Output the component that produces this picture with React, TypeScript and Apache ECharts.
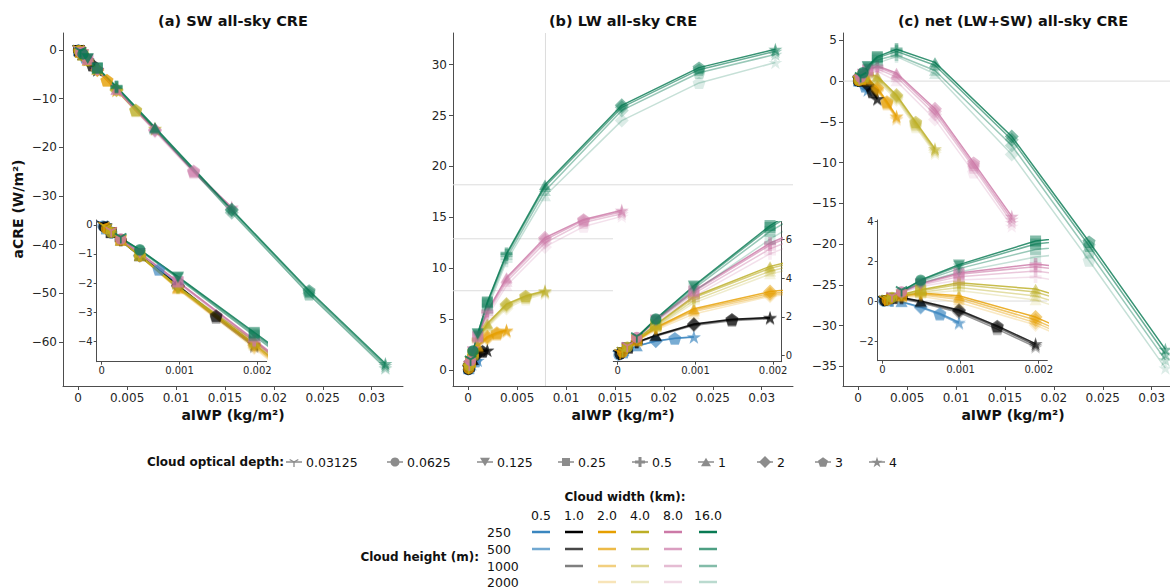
import React, { useEffect, useRef } from 'react';
import * as echarts from 'echarts';

// ---------------- data ----------------
const tauValues = [0.03125, 0.0625, 0.125, 0.25, 0.5, 1, 2, 3, 4];
const widthLabels = ['0.5', '1.0', '2.0', '4.0', '8.0', '16.0'];
const heightLabels = ['250', '500', '1000', '2000'];

const panelTitles = ['(a) SW all-sky CRE', '(b) LW all-sky CRE', '(c) net (LW+SW) all-sky CRE'];
const xAxisTitle = 'aIWP (kg/m²)';
const yAxisTitle = 'aCRE (W/m²)';
const opticalDepthTitle = 'Cloud optical depth:';
const widthTitle = 'Cloud width (km):';
const heightTitle = 'Cloud height (m):';

const mainXTicks = [0, 0.005, 0.01, 0.015, 0.02, 0.025, 0.03];
const mainYTicksA = [-60, -50, -40, -30, -20, -10, 0];
const mainYTicksB = [0, 5, 10, 15, 20, 25, 30];
const mainYTicksC = [-35, -30, -25, -20, -15, -10, -5, 0, 5];
const insetXTicks = [0, 0.001, 0.002];
const insetYTicksA = [-4, -3, -2, -1, 0];
const insetYTicksB = [0, 2, 4, 6];
const insetYTicksC = [-2, 0, 2, 4];

const mainXRange = [-0.00155, 0.0332];
const mainYRangeA = [-69.0, 3.45];
const mainYRangeB = [-1.55, 33.1];
const mainYRangeC = [-37.4, 5.9];
const insetXRangeA = [-0.000064, 0.00212];
const insetXRangeB = [-0.000057, 0.00211];
const insetXRangeC = [-0.00006, 0.00211];
const insetYRangeA = [-4.71, 0.17];
const insetYRangeB = [-0.31, 6.9];
const insetYRangeC = [-2.98, 4.05];

// reference lines in panel (b) and zero lines in panel (c)
const lwRefX = 0.0079;
const lwRefYFull = 18.2;
const lwRefYShort = [12.9, 7.8];
const lwRefShortEnd = 0.0148;
const netZero = 0;

// aIWP (kg/m²) per cloud width, one value per optical depth
const aiwpW05 = [0.0000077, 0.0000153, 0.0000306, 0.0000613, 0.000123, 0.000245, 0.00049, 0.000735, 0.00098];
const aiwpW1 = [0.0000153, 0.0000306, 0.0000613, 0.000123, 0.000245, 0.00049, 0.00098, 0.00147, 0.00196];
const aiwpW2 = [0.0000306, 0.0000613, 0.000123, 0.000245, 0.00049, 0.00098, 0.00196, 0.00294, 0.00392];
const aiwpW4 = [0.0000613, 0.000123, 0.000245, 0.00049, 0.00098, 0.00196, 0.00392, 0.00588, 0.00785];
const aiwpW8 = [0.000123, 0.000245, 0.00049, 0.00098, 0.00196, 0.00392, 0.00785, 0.0118, 0.0157];
const aiwpW16 = [0.000245, 0.00049, 0.00098, 0.00196, 0.00392, 0.00785, 0.0157, 0.0236, 0.0314];

// width 0.5 km
const swW05H250 = [-0.017, -0.034, -0.067, -0.134, -0.265, -0.53, -1.05, -1.52, -2.03];
const swW05H500 = [-0.017, -0.034, -0.068, -0.136, -0.27, -0.54, -1.07, -1.55, -2.07];
const lwW05H250 = [0.02, 0.04, 0.08, 0.15, 0.28, 0.5, 0.76, 0.9, 0.97];
const lwW05H500 = [0.02, 0.04, 0.08, 0.15, 0.28, 0.49, 0.74, 0.88, 0.95];
const netW05H250 = [0.003, 0.006, 0.013, 0.016, 0.015, -0.03, -0.29, -0.62, -1.06];
const netW05H500 = [0.003, 0.006, 0.012, 0.014, 0.01, -0.05, -0.33, -0.67, -1.12];

// width 1.0 km
const swW1H250 = [-0.033, -0.066, -0.13, -0.26, -0.52, -1.05, -2.08, -3.12, -4.1];
const swW1H500 = [-0.033, -0.067, -0.132, -0.265, -0.53, -1.06, -2.1, -3.15, -4.15];
const swW1H1000 = [-0.034, -0.068, -0.135, -0.27, -0.54, -1.08, -2.13, -3.2, -4.2];
const lwW1H250 = [0.04, 0.08, 0.17, 0.4, 0.7, 1.05, 1.63, 1.88, 1.97];
const lwW1H500 = [0.04, 0.08, 0.17, 0.4, 0.69, 1.03, 1.6, 1.85, 1.94];
const lwW1H1000 = [0.04, 0.08, 0.16, 0.38, 0.66, 1.0, 1.56, 1.8, 1.9];
const netW1H250 = [0.007, 0.014, 0.04, 0.14, 0.18, 0.0, -0.45, -1.24, -2.13];
const netW1H500 = [0.007, 0.013, 0.038, 0.135, 0.16, -0.03, -0.5, -1.3, -2.21];
const netW1H1000 = [0.006, 0.012, 0.025, 0.11, 0.12, -0.08, -0.57, -1.4, -2.3];

// width 2.0 km
const swW2H250 = [-0.065, -0.13, -0.26, -0.52, -1.05, -2.15, -4.1, -6.2, -8.25];
const swW2H500 = [-0.066, -0.132, -0.265, -0.53, -1.06, -2.17, -4.15, -6.25, -8.3];
const swW2H1000 = [-0.067, -0.134, -0.268, -0.535, -1.07, -2.2, -4.2, -6.3, -8.4];
const swW2H2000 = [-0.068, -0.136, -0.272, -0.54, -1.08, -2.22, -4.25, -6.35, -8.45];
const lwW2H250 = [0.09, 0.18, 0.36, 0.8, 1.45, 2.42, 3.3, 3.7, 3.95];
const lwW2H500 = [0.09, 0.18, 0.35, 0.78, 1.42, 2.35, 3.2, 3.62, 3.88];
const lwW2H1000 = [0.09, 0.17, 0.34, 0.75, 1.38, 2.28, 3.12, 3.55, 3.8];
const lwW2H2000 = [0.08, 0.17, 0.33, 0.72, 1.32, 2.15, 3.05, 3.48, 3.72];
const netW2H250 = [0.025, 0.05, 0.1, 0.28, 0.4, 0.27, -0.8, -2.5, -4.3];
const netW2H500 = [0.024, 0.048, 0.085, 0.25, 0.36, 0.18, -0.95, -2.63, -4.42];
const netW2H1000 = [0.023, 0.036, 0.072, 0.215, 0.31, 0.08, -1.08, -2.75, -4.6];
const netW2H2000 = [0.012, 0.034, 0.058, 0.18, 0.24, -0.07, -1.2, -2.87, -4.73];

// width 4.0 km
const swW4H250 = [-0.13, -0.26, -0.52, -1.04, -2.13, -4.0, -8.2, -12.3, -16.1];
const swW4H500 = [-0.131, -0.262, -0.525, -1.05, -2.15, -4.05, -8.25, -12.4, -16.2];
const swW4H1000 = [-0.132, -0.264, -0.53, -1.06, -2.17, -4.1, -8.3, -12.5, -16.3];
const swW4H2000 = [-0.133, -0.266, -0.535, -1.07, -2.19, -4.15, -8.35, -12.6, -16.4];
const lwW4H250 = [0.2, 0.45, 0.85, 1.6, 3.05, 4.6, 6.5, 7.3, 7.8];
const lwW4H500 = [0.2, 0.44, 0.83, 1.56, 2.98, 4.5, 6.4, 7.22, 7.72];
const lwW4H1000 = [0.2, 0.43, 0.8, 1.5, 2.85, 4.35, 6.25, 7.1, 7.62];
const lwW4H2000 = [0.19, 0.42, 0.78, 1.45, 2.72, 4.2, 6.05, 6.95, 7.5];
const netW4H250 = [0.07, 0.19, 0.33, 0.56, 0.92, 0.6, -1.7, -5.0, -8.3];
const netW4H500 = [0.07, 0.18, 0.3, 0.51, 0.83, 0.45, -1.85, -5.18, -8.48];
const netW4H1000 = [0.068, 0.166, 0.27, 0.44, 0.68, 0.25, -2.05, -5.4, -8.68];
const netW4H2000 = [0.057, 0.154, 0.245, 0.38, 0.53, 0.05, -2.3, -5.65, -8.9];

// width 8.0 km
const swW8H250 = [-0.24, -0.48, -0.97, -1.95, -3.95, -8.1, -16.4, -24.8, -32.3];
const swW8H500 = [-0.24, -0.48, -0.975, -1.96, -3.98, -8.15, -16.5, -25.0, -32.5];
const swW8H1000 = [-0.245, -0.49, -0.98, -1.98, -4.0, -8.2, -16.6, -25.1, -32.7];
const swW8H2000 = [-0.25, -0.5, -0.99, -2.0, -4.05, -8.3, -16.8, -25.3, -32.9];
const lwW8H250 = [0.45, 0.95, 1.85, 3.35, 5.8, 9.1, 13.0, 14.8, 15.7];
const lwW8H500 = [0.45, 0.94, 1.82, 3.3, 5.7, 8.95, 12.8, 14.7, 15.55];
const lwW8H1000 = [0.44, 0.92, 1.78, 3.2, 5.5, 8.7, 12.5, 14.5, 15.35];
const lwW8H2000 = [0.43, 0.9, 1.72, 3.05, 5.25, 8.3, 12.1, 14.1, 15.1];
const netW8H250 = [0.21, 0.47, 0.88, 1.4, 1.85, 1.0, -3.4, -10.0, -16.6];
const netW8H500 = [0.21, 0.46, 0.845, 1.34, 1.72, 0.8, -3.7, -10.3, -16.95];
const netW8H1000 = [0.195, 0.43, 0.8, 1.22, 1.5, 0.5, -4.1, -10.6, -17.35];
const netW8H2000 = [0.18, 0.4, 0.73, 1.05, 1.2, 0.0, -4.7, -11.2, -17.8];

// width 16.0 km
const swW16H250 = [-0.45, -0.85, -1.78, -3.7, -7.55, -15.9, -32.8, -49.4, -64.4];
const swW16H500 = [-0.45, -0.86, -1.8, -3.75, -7.65, -16.05, -33.0, -49.7, -64.8];
const swW16H1000 = [-0.46, -0.88, -1.83, -3.82, -7.8, -16.3, -33.4, -50.2, -65.2];
const swW16H2000 = [-0.47, -0.9, -1.85, -3.8, -7.7, -16.2, -33.5, -50.2, -65.4];
const lwW16H250 = [0.95, 1.9, 3.6, 6.7, 11.45, 18.2, 26.0, 29.7, 31.5];
const lwW16H500 = [0.95, 1.88, 3.55, 6.6, 11.3, 18.0, 25.8, 29.5, 31.3];
const lwW16H1000 = [0.93, 1.85, 3.45, 6.4, 11.0, 17.6, 25.5, 29.2, 31.0];
const lwW16H2000 = [0.9, 1.8, 3.3, 6.0, 10.7, 17.1, 24.5, 28.2, 30.2];
const netW16H250 = [0.5, 1.05, 1.82, 3.0, 3.9, 2.3, -6.8, -19.7, -32.9];
const netW16H500 = [0.5, 1.02, 1.75, 2.85, 3.65, 1.95, -7.2, -20.2, -33.5];
const netW16H1000 = [0.47, 0.97, 1.62, 2.58, 3.2, 1.3, -7.9, -21.0, -34.2];
const netW16H2000 = [0.43, 0.9, 1.45, 2.2, 3.0, 0.9, -9.0, -22.0, -35.2];

type Case = { w: number; h: number; x: number[]; sw: number[]; lw: number[]; net: number[] };
const cases: Case[] = [
  { w: 0, h: 0, x: aiwpW05, sw: swW05H250, lw: lwW05H250, net: netW05H250 },
  { w: 0, h: 1, x: aiwpW05, sw: swW05H500, lw: lwW05H500, net: netW05H500 },
  { w: 1, h: 0, x: aiwpW1, sw: swW1H250, lw: lwW1H250, net: netW1H250 },
  { w: 1, h: 1, x: aiwpW1, sw: swW1H500, lw: lwW1H500, net: netW1H500 },
  { w: 1, h: 2, x: aiwpW1, sw: swW1H1000, lw: lwW1H1000, net: netW1H1000 },
  { w: 2, h: 0, x: aiwpW2, sw: swW2H250, lw: lwW2H250, net: netW2H250 },
  { w: 2, h: 1, x: aiwpW2, sw: swW2H500, lw: lwW2H500, net: netW2H500 },
  { w: 2, h: 2, x: aiwpW2, sw: swW2H1000, lw: lwW2H1000, net: netW2H1000 },
  { w: 2, h: 3, x: aiwpW2, sw: swW2H2000, lw: lwW2H2000, net: netW2H2000 },
  { w: 3, h: 0, x: aiwpW4, sw: swW4H250, lw: lwW4H250, net: netW4H250 },
  { w: 3, h: 1, x: aiwpW4, sw: swW4H500, lw: lwW4H500, net: netW4H500 },
  { w: 3, h: 2, x: aiwpW4, sw: swW4H1000, lw: lwW4H1000, net: netW4H1000 },
  { w: 3, h: 3, x: aiwpW4, sw: swW4H2000, lw: lwW4H2000, net: netW4H2000 },
  { w: 4, h: 0, x: aiwpW8, sw: swW8H250, lw: lwW8H250, net: netW8H250 },
  { w: 4, h: 1, x: aiwpW8, sw: swW8H500, lw: lwW8H500, net: netW8H500 },
  { w: 4, h: 2, x: aiwpW8, sw: swW8H1000, lw: lwW8H1000, net: netW8H1000 },
  { w: 4, h: 3, x: aiwpW8, sw: swW8H2000, lw: lwW8H2000, net: netW8H2000 },
  { w: 5, h: 0, x: aiwpW16, sw: swW16H250, lw: lwW16H250, net: netW16H250 },
  { w: 5, h: 1, x: aiwpW16, sw: swW16H500, lw: lwW16H500, net: netW16H500 },
  { w: 5, h: 2, x: aiwpW16, sw: swW16H1000, lw: lwW16H1000, net: netW16H1000 },
  { w: 5, h: 3, x: aiwpW16, sw: swW16H2000, lw: lwW16H2000, net: netW16H2000 },
];

// ---------------- styles ----------------
const baseColors = ['#3a86bf', '#000000', '#e69f00', '#bcae25', '#cc79a7', '#087a53'];
const heightAlpha = [1, 0.72, 0.5, 0.28];
const lineAlpha = 0.82;
const markerOpacity = 0.5;
const FONT = '"DejaVu Sans", sans-serif';
const TEXT = '#262626';
const AXIS = '#4d4d4d';

function rgba(hex: string, a: number) {
  const n = parseInt(hex.slice(1), 16);
  return `rgba(${(n >> 16) & 255},${(n >> 8) & 255},${n & 255},${a})`;
}

type Pt = [number, number];
const triDownArms: Pt[][] = [
  [[56, 50], [56, 100], [44, 100], [44, 50]],
  [[47, 44.8], [90.3, 19.8], [96.3, 30.2], [53, 55.2]],
  [[47, 55.2], [3.7, 30.2], [9.7, 19.8], [53, 44.8]],
];
const markerPolys: (Pt[] | null)[] = [
  null,
  null,
  [[0, 0], [100, 0], [50, 86.6]],
  [[0, 0], [100, 0], [100, 100], [0, 100]],
  [[35, 0], [65, 0], [65, 35], [100, 35], [100, 65], [65, 65], [65, 100], [35, 100], [35, 65], [0, 65], [0, 35], [35, 35]],
  [[50, 0], [100, 86.6], [0, 86.6]],
  [[50, 0], [100, 50], [50, 100], [0, 50]],
  [[50, 0], [97.6, 34.5], [79.4, 90.5], [20.6, 90.5], [2.4, 34.5]],
  [[50, 0], [61.17, 34.63], [97.55, 34.55], [68.07, 55.87], [79.39, 90.45], [50, 69], [20.61, 90.45], [31.93, 55.87], [2.45, 34.55], [38.83, 34.63]],
];
const polyPath = (polys: Pt[][]) =>
  'path://' + polys.map((p) => 'M' + p.map(([x, y]) => `${x},${y}`).join('L') + 'Z').join('');
const markerSymbols = markerPolys.map((p, k) =>
  k === 0 ? polyPath(triDownArms) : k === 1 ? 'circle' : polyPath([p as Pt[]])
);
const markerSizes = [12, 11, 12, 11, 12, 12, 14, 13, 14];

const fmt = (v: number) => (v === 0 ? '0' : String(v).replace('-', '\u2212'));

function makeAxis(gi: number, range: number[], ticks: number[], fontSize: number, tickLen: number, margin: number, position?: string) {
  return {
    type: 'value',
    gridIndex: gi,
    min: range[0],
    max: range[1],
    position,
    axisLine: { show: true, onZero: false, lineStyle: { color: AXIS, width: 1 } },
    axisTick: { show: true, length: tickLen, lineStyle: { color: AXIS, width: 1 }, customValues: ticks },
    axisLabel: {
      show: true,
      customValues: ticks,
      formatter: fmt,
      fontSize,
      color: TEXT,
      fontFamily: FONT,
      margin,
    },
    splitLine: { show: false },
  };
}

function buildOption() {
  const mainLefts = [63, 453, 843];
  const grids: any[] = mainLefts.map((left) => ({ left, top: 33, width: 340, height: 353, containLabel: false, outerBoundsMode: 'none' }));
  grids.push({ left: 96.7, top: 220, width: 170, height: 141.7, containLabel: false, outerBoundsMode: 'none' });
  grids.push({ left: 613.3, top: 221.7, width: 168.4, height: 140, containLabel: false, outerBoundsMode: 'none' });
  grids.push({ left: 877.7, top: 220, width: 169.6, height: 140.7, containLabel: false, outerBoundsMode: 'none' });

  const xAxis = [
    makeAxis(0, mainXRange, mainXTicks, 12, 4, 6),
    makeAxis(1, mainXRange, mainXTicks, 12, 4, 6),
    makeAxis(2, mainXRange, mainXTicks, 12, 4, 6),
    makeAxis(3, insetXRangeA, insetXTicks, 10, 3, 4),
    makeAxis(4, insetXRangeB, insetXTicks, 10, 3, 4),
    makeAxis(5, insetXRangeC, insetXTicks, 10, 3, 4),
  ];
  const yAxis = [
    makeAxis(0, mainYRangeA, mainYTicksA, 12, 4, 6),
    makeAxis(1, mainYRangeB, mainYTicksB, 12, 4, 6),
    makeAxis(2, mainYRangeC, mainYTicksC, 12, 4, 6),
    makeAxis(3, insetYRangeA, insetYTicksA, 10, 3, 4),
    makeAxis(4, insetYRangeB, insetYTicksB, 10, 3, 4, 'right'),
    makeAxis(5, insetYRangeC, insetYTicksC, 10, 3, 4),
  ];

  const refStyle = { color: '#dcdcdc', width: 1 };
  const refSeries = (gi: number, data: number[][]) => ({
    type: 'line',
    xAxisIndex: gi,
    yAxisIndex: gi,
    data,
    symbol: 'none',
    lineStyle: refStyle,
    silent: true,
    z: 1,
    clip: true,
    emphasis: { disabled: true },
  });

  const series: any[] = [
    refSeries(1, [[lwRefX, mainYRangeB[0]], [lwRefX, mainYRangeB[1]]]),
    refSeries(1, [[mainXRange[0], lwRefYFull], [mainXRange[1], lwRefYFull]]),
    ...lwRefYShort.map((y) => refSeries(1, [[mainXRange[0], y], [lwRefShortEnd, y]])),
    refSeries(2, [[mainXRange[0], netZero], [mainXRange[1], netZero]]),
    refSeries(5, [[insetXRangeC[0], netZero], [insetXRangeC[1], netZero]]),
  ];

  const keys: ('sw' | 'lw' | 'net')[] = ['sw', 'lw', 'net'];
  keys.forEach((key, p) => {
    [p, p + 3].forEach((gi) => {
      cases.forEach((c) => {
        const a = heightAlpha[c.h];
        series.push({
          type: 'line',
          xAxisIndex: gi,
          yAxisIndex: gi,
          data: c.x.map((x, k) => ({
            value: [x, c[key][k]],
            symbol: markerSymbols[k],
            symbolSize: markerSizes[k],
          })),
          symbolKeepAspect: true,
          showSymbol: true,
          lineStyle: { color: rgba(baseColors[c.w], a * lineAlpha), width: 1.5 },
          itemStyle: { color: rgba(baseColors[c.w], a * markerOpacity), borderWidth: 0 },
          clip: true,
          silent: true,
          z: 2,
          emphasis: { disabled: true },
        });
      });
    });
  });

  // ---------- graphic: titles, axis names, legends ----------
  const g: any[] = [];
  const txt = (text: string, x: number, y: number, size: number, bold: boolean, align = 'center', rotation = 0) => ({
    type: 'text',
    x,
    y,
    rotation,
    z: 100,
    style: {
      text,
      fill: '#111',
      fontSize: size,
      fontWeight: bold ? 'bold' : 'normal',
      fontFamily: FONT,
      textAlign: align,
      textVerticalAlign: 'middle',
      align,
      verticalAlign: 'middle',
    },
  });
  const centers = [233, 623, 1013];
  centers.forEach((cx, i) => {
    g.push(txt(panelTitles[i], cx, 21, 14.5, true));
    g.push(txt(xAxisTitle, cx, 415, 14, true));
  });
  g.push(txt(yAxisTitle, 18, 209, 14, true, 'center', Math.PI / 2));

  // optical depth legend
  const legY = 462;
  const legGray = '#8c8c8c';
  g.push(txt(opticalDepthTitle, 284, legY, 12, true, 'right'));
  const symCenters = [294, 395, 485, 566, 640, 706, 765, 823, 877];
  const legSizes = [10, 9, 10, 8, 10, 10, 12, 10, 11];
  symCenters.forEach((cx, k) => {
    g.push({ type: 'line', z: 100, shape: { x1: cx - 8, y1: legY, x2: cx + 8, y2: legY }, style: { stroke: legGray, lineWidth: 1.5 } });
    const s = legSizes[k];
    if (k === 0) {
      const r = s / 2;
      [[0, r], [-0.866 * r, -0.5 * r], [0.866 * r, -0.5 * r]].forEach(([dx, dy]) => {
        g.push({ type: 'line', z: 101, shape: { x1: cx, y1: legY, x2: cx + dx, y2: legY + dy }, style: { stroke: legGray, lineWidth: 1.3 } });
      });
    } else if (k === 1) {
      g.push({ type: 'circle', z: 101, shape: { cx, cy: legY, r: s / 2 }, style: { fill: legGray } });
    } else {
      const pts = markerPolys[k] as Pt[];
      const xs = pts.map((p) => p[0]);
      const ys = pts.map((p) => p[1]);
      const bx = (Math.min(...xs) + Math.max(...xs)) / 2;
      const by = (Math.min(...ys) + Math.max(...ys)) / 2;
      const sc = s / Math.max(Math.max(...xs) - Math.min(...xs), Math.max(...ys) - Math.min(...ys));
      g.push({
        type: 'polygon',
        z: 101,
        shape: { points: pts.map(([x, y]) => [cx + (x - bx) * sc, legY + (y - by) * sc]) },
        style: { fill: legGray },
      });
    }
    g.push(txt(String(tauValues[k]), cx + 12, legY, 12.5, false, 'left'));
  });

  // width / height legend
  g.push(txt(widthTitle, 625, 497, 12, true));
  const colX = [541, 574, 607, 640, 673, 708];
  const rowY = [532, 549, 566, 582];
  widthLabels.forEach((lab, i) => g.push(txt(lab, colX[i], 515, 12.5, false)));
  heightLabels.forEach((lab, j) => g.push(txt(lab, 487, rowY[j], 12.5, false, 'left')));
  g.push(txt(heightTitle, 479, 557, 12, true, 'right'));
  cases.forEach((c) => {
    const cx = colX[c.w];
    const cy = rowY[c.h];
    g.push({
      type: 'line',
      z: 100,
      shape: { x1: cx - 9, y1: cy, x2: cx + 9, y2: cy },
      style: { stroke: rgba(baseColors[c.w], heightAlpha[c.h]), lineWidth: 2.5 },
    });
  });

  return {
    animation: false,
    backgroundColor: '#ffffff',
    grid: grids,
    xAxis,
    yAxis,
    series,
    graphic: { elements: g },
  };
}

export default function App() {
  const ref = useRef<HTMLDivElement>(null);
  useEffect(() => {
    if (!ref.current) return;
    const chart = echarts.init(ref.current, null, { renderer: 'svg' });
    chart.setOption(buildOption() as any);
    return () => chart.dispose();
  }, []);
  return (
    <div
      ref={ref}
      style={{ position: 'absolute', left: 0, top: 0, width: 1170, height: 587, background: '#fff' }}
    />
  );
}
